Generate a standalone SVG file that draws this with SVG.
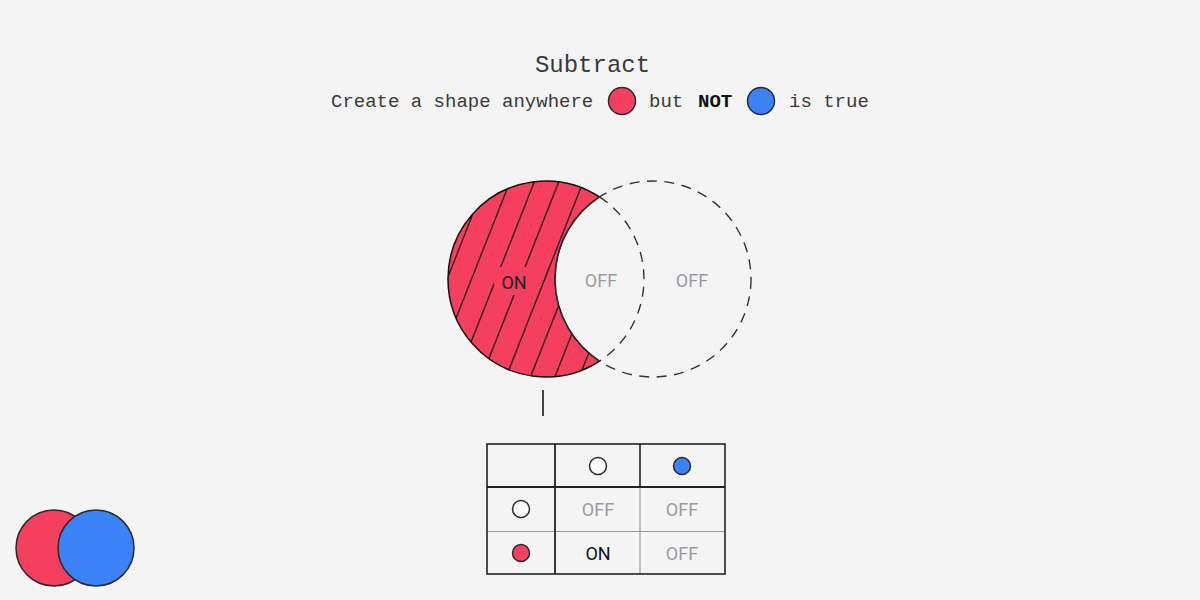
<svg xmlns="http://www.w3.org/2000/svg" width="1200" height="600" viewBox="0 0 1200 600">
<style>
.mono{font-family:"Liberation Mono","DejaVu Sans Mono",monospace;fill:#3a3a3a}
.lbl{font-family:Roboto,"Liberation Sans",sans-serif;font-size:18px;text-anchor:middle}
.off{fill:#9b9ba0}
.on{fill:#111}
.edge{stroke:#2a2a2a;stroke-width:1.5}
.hatch line{stroke:#111;stroke-width:1.2}
</style>
<defs>
<clipPath id="crescent">
<path d="M599.5 196.9 A98 98 0 1 0 599.5 361.1 A98 98 0 0 1 599.5 196.9 Z"/>
</clipPath>
</defs>
<rect width="1200" height="600" fill="#f4f4f4"/>
<g id="title">
<text class="mono" x="592.5" y="72" font-size="24" text-anchor="middle">Subtract</text>
</g>
<g id="subtitle">
<text class="mono" x="331" y="107" font-size="19" fill="#444">Create a shape anywhere</text>
<circle cx="622" cy="101" r="13.5" fill="#f43f5e" class="edge"/>
<text class="mono" x="649" y="107" font-size="19">but</text>
<text class="mono" x="698" y="107" font-size="19" font-weight="bold" style="fill:#111">NOT</text>
<circle cx="761" cy="101" r="13.5" fill="#3b82f6" class="edge"/>
<text class="mono" x="789" y="107" font-size="19">is true</text>
</g>
<g id="venn">
<path d="M599.5 196.9 A98 98 0 1 0 599.5 361.1 A98 98 0 0 1 599.5 196.9 Z" fill="#f43f5e"/>
<g class="hatch" clip-path="url(#crescent)">
<line x1="490.2" y1="170" x2="403.3" y2="390"/>
<line x1="514.6" y1="170" x2="427.7" y2="390"/>
<line x1="539" y1="170" x2="452.1" y2="390"/>
<line x1="563.4" y1="170" x2="476.5" y2="390"/>
<line x1="587.8" y1="170" x2="500.9" y2="390"/>
<line x1="612.2" y1="170" x2="525.3" y2="390"/>
<line x1="636.6" y1="170" x2="549.7" y2="390"/>
<line x1="661" y1="170" x2="574.1" y2="390"/>
</g>
<rect x="494" y="267" width="40" height="28" fill="#f43f5e"/>
<path d="M599.5 196.9 A98 98 0 1 0 599.5 361.1 A98 98 0 0 1 599.5 196.9 Z" fill="none" stroke="#111" stroke-width="1.5"/>
<circle cx="653" cy="279" r="98" fill="none" stroke="#333" stroke-width="1.4" stroke-dasharray="10 7.5"/>
<path d="M599.5 196.9 A98 98 0 0 1 599.5 361.1" fill="none" stroke="#333" stroke-width="1.4" stroke-dasharray="10 7.5"/>
<text class="lbl" x="514" y="289" fill="#222">ON</text>
<text class="lbl off" x="601" y="287">OFF</text>
<text class="lbl off" x="692" y="287">OFF</text>
</g>
<g id="connectors">
<line x1="543" y1="390" x2="543" y2="416" stroke="#333" stroke-width="1.8"/>
</g>
<g id="table">
<line x1="640" y1="487" x2="640" y2="574" stroke="#999" stroke-width="1.2"/>
<line x1="487" y1="531.5" x2="725" y2="531.5" stroke="#999" stroke-width="1.2"/>
<rect x="487" y="444" width="238" height="130" fill="none" stroke="#222" stroke-width="1.6"/>
<line x1="555" y1="444" x2="555" y2="574" stroke="#222" stroke-width="1.8"/>
<line x1="487" y1="487" x2="725" y2="487" stroke="#222" stroke-width="1.8"/>
<line x1="640" y1="444" x2="640" y2="487" stroke="#222" stroke-width="1.6"/>
<circle cx="598" cy="466" r="8.5" fill="#fff" class="edge"/>
<circle cx="682" cy="466" r="8.5" fill="#3b82f6" class="edge"/>
<circle cx="521" cy="509" r="8.5" fill="#fff" class="edge"/>
<circle cx="521" cy="553" r="8.5" fill="#f43f5e" class="edge"/>
<text class="lbl off" x="598" y="516">OFF</text>
<text class="lbl off" x="682" y="516">OFF</text>
<text class="lbl on" x="598" y="560">ON</text>
<text class="lbl off" x="682" y="560">OFF</text>
</g>
<g id="icon">
<circle cx="54" cy="548" r="38" fill="#f43f5e" class="edge"/>
<circle cx="96" cy="548" r="38" fill="#3b82f6" class="edge"/>
</g>
</svg>
